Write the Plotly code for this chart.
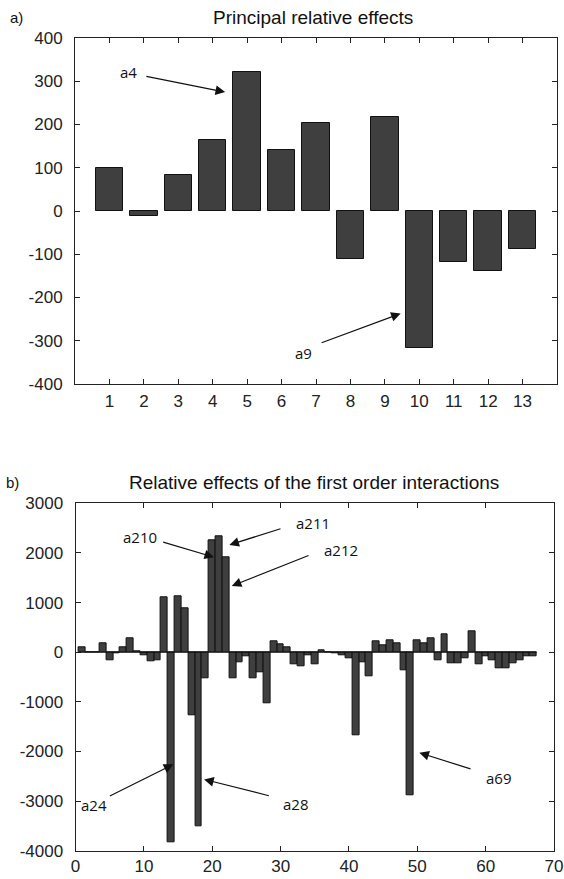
import plotly.graph_objects as go

# ---- data ----
main_factors = list(range(1, 14))
main_effects = [100, -12, 83, 165, 322, 141, 204, -111, 217, -316, -119, -138, -87]

inter_index = list(range(1, 68))
inter_effects = [90, 0, 0, 180, -160, -30, 95, 275, 25, -70,
                 -190, -155, 1100, -3830, 1125, 880, -1270, -3500, -520, 2250,
                 2345, 1920, -520, -200, -80, -520, -400, -1030, 210, 155,
                 90, -250, -285, -60, -250, 35, 0, -25, -60, -130,
                 -1670, -200, -490, 210, 135, 240, 180, -365, -2890, 245,
                 175, 270, -155, 360, -225, -225, -115, 425, -250, -80,
                 -155, -320, -320, -225, -155, -80, -80]

top_ticks = list(range(1, 14))
top_yticks = [-400, -300, -200, -100, 0, 100, 200, 300, 400]
bot_xticks = [0, 10, 20, 30, 40, 50, 60, 70]
bot_yticks = [-4000, -3000, -2000, -1000, 0, 1000, 2000, 3000]

W, H = 564, 879
TICKFONT = dict(family="Liberation Sans, Arial", size=17, color="#222")
ANNFONT = dict(family="Open Sans, DejaVu Sans", size=15, color="#111")
TITLEFONT = dict(family="Liberation Sans, Arial", size=19, color="#111")
BARCOL = "#3f3f3f"

fig = go.Figure()
fig.add_trace(go.Bar(x=main_factors, y=main_effects, width=0.8,
                     marker=dict(color=BARCOL, line=dict(color="#111", width=1)),
                     xaxis="x", yaxis="y", showlegend=False))
fig.add_trace(go.Bar(x=inter_index, y=inter_effects, width=1.0,
                     marker=dict(color=BARCOL, line=dict(color="#111", width=1)),
                     xaxis="x2", yaxis="y2", showlegend=False))

axcommon = dict(showline=True, linecolor="#222", linewidth=1, mirror="ticks",
                ticks="inside", ticklen=5, tickcolor="#222", showgrid=False,
                zeroline=False, tickfont=TICKFONT, ticklabeloverflow="allow",
                automargin=False)


def px_x(p):
    return p / W


def px_y(p):
    return 1 - p / H


def lab(v):
    return str(v)  # plain hyphen minus like the original


fig.update_layout(
    width=W, height=H, margin=dict(l=0, r=0, t=0, b=0, autoexpand=False),
    plot_bgcolor="white", paper_bgcolor="white", bargap=0,
    xaxis=dict(domain=[px_x(75), px_x(557)], range=[0, 14], tickvals=top_ticks,
               ticktext=[lab(v) for v in top_ticks], ticklabelstandoff=2,
               anchor="y", **axcommon),
    yaxis=dict(domain=[px_y(384), px_y(38)], range=[-400, 400], tickvals=top_yticks,
               ticktext=[lab(v) for v in top_yticks], ticklabelstandoff=8,
               anchor="x", **axcommon),
    xaxis2=dict(domain=[px_x(75.6), px_x(554)], range=[0, 70], tickvals=bot_xticks,
                ticktext=[lab(v) for v in bot_xticks], ticklabelstandoff=0,
                anchor="y2", **axcommon),
    yaxis2=dict(domain=[px_y(850.7), px_y(503.3)], range=[-4000, 3000], tickvals=bot_yticks,
                ticktext=[lab(v) for v in bot_yticks], ticklabelstandoff=8,
                anchor="x2", **axcommon),
)

# baseline for bottom chart
fig.add_shape(type="line", xref="x2", yref="y2", x0=0.5, x1=67.5, y0=0, y1=0,
              line=dict(color="#111", width=1))

# titles and panel labels
def paper_text(txt, x, y, font):
    fig.add_annotation(text=txt, xref="paper", yref="paper", x=px_x(x), y=px_y(y),
                       xanchor="center", yanchor="middle", showarrow=False, font=font)


paper_text("Principal relative effects", 313, 18, TITLEFONT)
paper_text("Relative effects of the first order interactions", 314, 483, TITLEFONT)
paper_text("a)", 16, 17, dict(family="Liberation Sans", size=15, color="#111"))
paper_text("b)", 12, 483, dict(family="Liberation Sans", size=15, color="#111"))

# arrow annotations: (label, text_x, text_y, tail_x, tail_y, head_x, head_y, axes)
arrows = [
    ("a4", 1.55, 322, 2.03, 312, 4.36, 275, "x", "y"),
    ("a9", 6.63, -328, 7.12, -306, 9.46, -237, "x", "y"),
    ("a210", 9.4, 2329, 12.6, 2228, 20.26, 1913, "x2", "y2"),
    ("a211", 34.8, 2598, 30.2, 2497, 22.5, 2161, "x2", "y2"),
    ("a212", 38.8, 2060, 34.3, 1959, 22.85, 1335, "x2", "y2"),
    ("a24", 2.74, -3080, 4.79, -2913, 14.3, -2260, "x2", "y2"),
    ("a28", 32.3, -3060, 28.5, -2900, 18.8, -2563, "x2", "y2"),
    ("a69", 61.9, -2530, 58.0, -2361, 50.3, -2026, "x2", "y2"),
]
for lab_, tx, ty, ax_, ay_, hx, hy, xr, yr in arrows:
    fig.add_annotation(text=lab_, x=tx, y=ty, xref=xr, yref=yr, showarrow=False, font=ANNFONT)
    fig.add_annotation(text="", x=hx, y=hy, ax=ax_, ay=ay_, xref=xr, yref=yr,
                       axref=xr, ayref=yr, showarrow=True, arrowhead=2, arrowsize=1.6,
                       arrowwidth=1.2, arrowcolor="#111", standoff=0, startstandoff=0)

fig.write_html("out.html")
